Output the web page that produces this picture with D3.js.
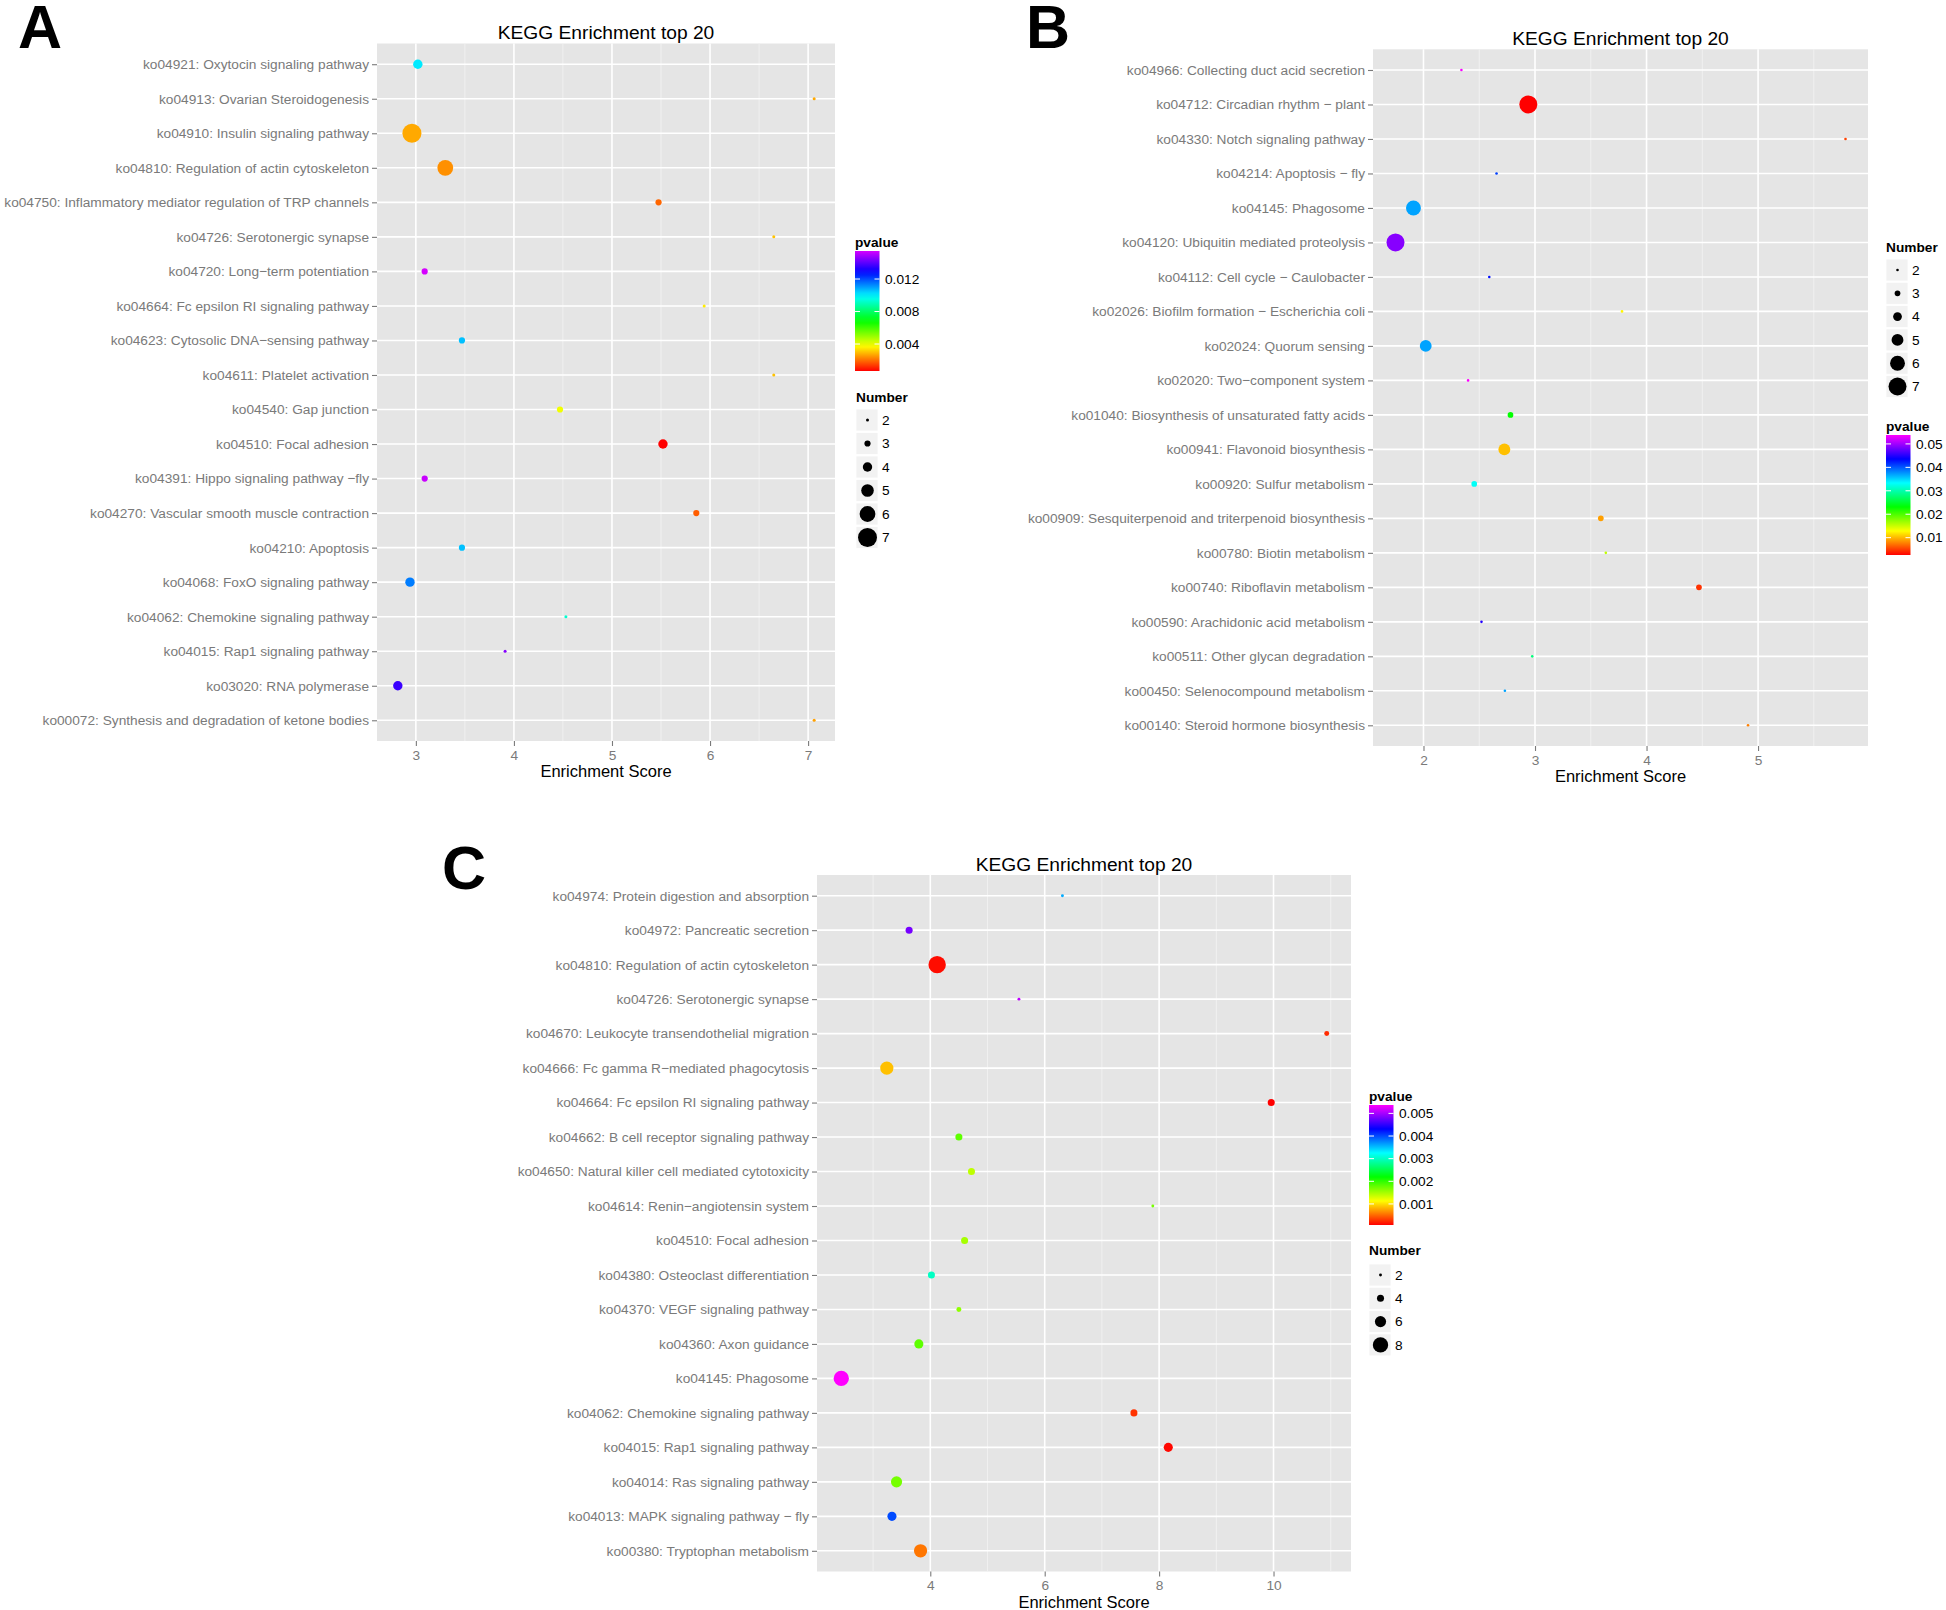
<!DOCTYPE html>
<html><head><meta charset="utf-8">
<script src="https://cdnjs.cloudflare.com/ajax/libs/d3/7.8.5/d3.min.js"></script>
<style>
body{margin:0;background:#fff;}
svg{display:block;}
text{font-family:"Liberation Sans",Arial,Helvetica,sans-serif;}
</style>
</head><body>
<svg id="chart" width="1946" height="1610"></svg>
<script>
// ---------------- Panel A data ----------------
const termsA = [
  "ko04921: Oxytocin signaling pathway",
  "ko04913: Ovarian Steroidogenesis",
  "ko04910: Insulin signaling pathway",
  "ko04810: Regulation of actin cytoskeleton",
  "ko04750: Inflammatory mediator regulation of TRP channels",
  "ko04726: Serotonergic synapse",
  "ko04720: Long\u2212term potentiation",
  "ko04664: Fc epsilon RI signaling pathway",
  "ko04623: Cytosolic DNA\u2212sensing pathway",
  "ko04611: Platelet activation",
  "ko04540: Gap junction",
  "ko04510: Focal adhesion",
  "ko04391: Hippo signaling pathway \u2212fly",
  "ko04270: Vascular smooth muscle contraction",
  "ko04210: Apoptosis",
  "ko04068: FoxO signaling pathway",
  "ko04062: Chemokine signaling pathway",
  "ko04015: Rap1 signaling pathway",
  "ko03020: RNA polymerase",
  "ko00072: Synthesis and degradation of ketone bodies"
];
const scoreA  = [3.02, 7.062, 2.96, 3.30, 5.475, 6.65, 3.09, 5.94, 3.47, 6.65, 4.47, 5.52, 3.09, 5.86, 3.47, 2.94, 4.53, 3.91, 2.816, 7.062];
const pvalueA = [0.0101, 0.0027, 0.0027, 0.0024, 0.0019, 0.0030, 0.01545, 0.0035, 0.0106, 0.0030, 0.0039, 0.00068, 0.0153, 0.0018, 0.0106, 0.0114, 0.0093, 0.0145, 0.0136, 0.0026];
const numberA = [4, 2, 7, 6, 3, 2, 3, 2, 3, 2, 3, 4, 3, 3, 3, 4, 2, 2, 4, 2];
const xTicksA = [3, 4, 5, 6, 7];
const pTicksA = [0.004, 0.008, 0.012];
const nTicksA = [2, 3, 4, 5, 6, 7];

// ---------------- Panel B data ----------------
const termsB = [
  "ko04966: Collecting duct acid secretion",
  "ko04712: Circadian rhythm \u2212 plant",
  "ko04330: Notch signaling pathway",
  "ko04214: Apoptosis \u2212 fly",
  "ko04145: Phagosome",
  "ko04120: Ubiquitin mediated proteolysis",
  "ko04112: Cell cycle \u2212 Caulobacter",
  "ko02026: Biofilm formation \u2212 Escherichia coli",
  "ko02024: Quorum sensing",
  "ko02020: Two\u2212component system",
  "ko01040: Biosynthesis of unsaturated fatty acids",
  "ko00941: Flavonoid biosynthesis",
  "ko00920: Sulfur metabolism",
  "ko00909: Sesquiterpenoid and triterpenoid biosynthesis",
  "ko00780: Biotin metabolism",
  "ko00740: Riboflavin metabolism",
  "ko00590: Arachidonic acid metabolism",
  "ko00511: Other glycan degradation",
  "ko00450: Selenocompound metabolism",
  "ko00140: Steroid hormone biosynthesis"
];
const scoreB  = [2.34, 2.94, 5.784, 2.655, 1.91, 1.749, 2.59, 3.78, 2.02, 2.40, 2.78, 2.725, 2.455, 3.59, 3.635, 4.47, 2.52, 2.975, 2.73, 4.91];
const pvalueB = [0.0535, 0.0026, 0.0052, 0.041, 0.037, 0.049, 0.043, 0.0125, 0.037, 0.0538, 0.023, 0.0103, 0.033, 0.009, 0.0154, 0.0046, 0.045, 0.028, 0.037, 0.0077];
const numberB = [2, 7, 2, 2, 6, 7, 2, 2, 5, 2, 3, 5, 3, 3, 2, 3, 2, 2, 2, 2];
const xTicksB = [2, 3, 4, 5];
const pTicksB = [0.01, 0.02, 0.03, 0.04, 0.05];
const nTicksB = [2, 3, 4, 5, 6, 7];

// ---------------- Panel C data ----------------
const termsC = [
  "ko04974: Protein digestion and absorption",
  "ko04972: Pancreatic secretion",
  "ko04810: Regulation of actin cytoskeleton",
  "ko04726: Serotonergic synapse",
  "ko04670: Leukocyte transendothelial migration",
  "ko04666: Fc gamma R\u2212mediated phagocytosis",
  "ko04664: Fc epsilon RI signaling pathway",
  "ko04662: B cell receptor signaling pathway",
  "ko04650: Natural killer cell mediated cytotoxicity",
  "ko04614: Renin\u2212angiotensin system",
  "ko04510: Focal adhesion",
  "ko04380: Osteoclast differentiation",
  "ko04370: VEGF signaling pathway",
  "ko04360: Axon guidance",
  "ko04145: Phagosome",
  "ko04062: Chemokine signaling pathway",
  "ko04015: Rap1 signaling pathway",
  "ko04014: Ras signaling pathway",
  "ko04013: MAPK signaling pathway \u2212 fly",
  "ko00380: Tryptophan metabolism"
];
const scoreC  = [6.31, 3.63, 4.12, 5.55, 10.93, 3.24, 9.96, 4.50, 4.72, 7.89, 4.60, 4.02, 4.50, 3.80, 2.444, 7.56, 8.16, 3.41, 3.33, 3.83];
const pvalueC = [0.0036, 0.0048, 0.00012, 0.0051, 0.00025, 0.00087, 0.00007, 0.0018, 0.0014, 0.0017, 0.0015, 0.0030, 0.0016, 0.0018, 0.00537, 0.00028, 0.0001, 0.0017, 0.0040, 0.00056];
const numberC = [2, 4, 9, 2, 3, 7, 4, 4, 4, 2, 4, 4, 3, 5, 8, 4, 5, 6, 5, 7];
const xTicksC = [4, 6, 8, 10];
const pTicksC = [0.001, 0.002, 0.003, 0.004, 0.005];
const nTicksC = [2, 4, 6, 8];

// ---------------- drawing ----------------
const svg = d3.select("#chart");
const defs = svg.append("defs");
const FONT = 13.7;
const AXIS_GREY = "#7a7a7a";

function drawPanel(d, L) {
  const g = svg.append("g");
  const ext = d3.extent(d.score);
  const pad = (ext[1] - ext[0]) * 0.05;
  const x = d3.scaleLinear().domain([ext[0] - pad, ext[1] + pad]).range([L.x0, L.x1]);
  const y = d3.scalePoint().domain(d.terms).range([L.y0, L.y1]).padding(0.6);
  const pExt = d3.extent(d.pvalue);
  const color = d3.scaleSequential(t => d3.hsl(t * L.hueMax, 1, 0.5).formatHex()).domain(pExt);
  const size = d3.scaleLinear().domain(d3.extent(d.number)).range(L.rRange);

  // panel label
  g.append("text").attr("x", L.lab[0]).attr("y", L.lab[1]).attr("font-size", 61)
    .attr("font-weight", "bold").attr("fill", "#000").text(L.letter);

  // title
  g.append("text").attr("x", (L.x0 + L.x1) / 2).attr("y", L.y0 - 4.5)
    .attr("text-anchor", "middle").attr("font-size", 19.2).attr("fill", "#000")
    .text("KEGG Enrichment top 20");

  // background
  g.append("rect").attr("x", L.x0).attr("y", L.y0).attr("width", L.x1 - L.x0)
    .attr("height", L.y1 - L.y0).attr("fill", "#e5e5e5");

  // minor grid
  const step = d.xTicks[1] - d.xTicks[0];
  const minor = [];
  for (let v = d.xTicks[0] - step / 2; v <= x.domain()[1]; v += step) {
    if (v >= x.domain()[0]) minor.push(v);
  }
  g.selectAll(".minor").data(minor).join("line")
    .attr("x1", v => x(v)).attr("x2", v => x(v)).attr("y1", L.y0).attr("y2", L.y1)
    .attr("stroke", "#f2f2f2").attr("stroke-width", 0.9);
  // major grid
  g.selectAll(".majx").data(d.xTicks).join("line")
    .attr("x1", v => x(v)).attr("x2", v => x(v)).attr("y1", L.y0).attr("y2", L.y1)
    .attr("stroke", "#fff").attr("stroke-width", 1.6);
  g.selectAll(".majy").data(d.terms).join("line")
    .attr("x1", L.x0).attr("x2", L.x1).attr("y1", t => y(t)).attr("y2", t => y(t))
    .attr("stroke", "#fff").attr("stroke-width", 1.6);

  // points
  const rows = d.terms.map((t, i) => ({t, s: d.score[i], p: d.pvalue[i], n: d.number[i]}));
  g.selectAll(".pt").data(rows).join("circle")
    .attr("cx", r => x(r.s)).attr("cy", r => y(r.t)).attr("r", r => size(r.n))
    .attr("fill", r => color(r.p));

  // axes
  const ay = g.append("g").attr("transform", `translate(${L.x0},0)`)
    .call(d3.axisLeft(y).tickSize(5).tickPadding(3));
  const ax = g.append("g").attr("transform", `translate(0,${L.y1})`)
    .call(d3.axisBottom(x).tickValues(d.xTicks).tickSize(5).tickPadding(4).tickFormat(d3.format("d")));
  [ay, ax].forEach(a => {
    a.select(".domain").remove();
    a.selectAll(".tick line").attr("stroke", AXIS_GREY).attr("stroke-width", 1.1);
    a.selectAll(".tick text").attr("fill", AXIS_GREY).attr("font-size", FONT)
      .attr("font-family", '"Liberation Sans",Arial,sans-serif');
  });
  g.append("text").attr("x", (L.x0 + L.x1) / 2).attr("y", L.y1 + 36)
    .attr("text-anchor", "middle").attr("font-size", 16.5).attr("fill", "#000")
    .text("Enrichment Score");

  // colour legend
  const C = L.cbar;
  const gid = "grad" + L.letter;
  const grad = defs.append("linearGradient").attr("id", gid)
    .attr("x1", 0).attr("y1", 1).attr("x2", 0).attr("y2", 0);
  d3.range(0, 1.0001, 0.05).forEach(t => {
    grad.append("stop").attr("offset", t).attr("stop-color", color(pExt[0] + t * (pExt[1] - pExt[0])));
  });
  g.append("text").attr("x", C.x).attr("y", C.y - 4.5).attr("font-size", FONT)
    .attr("font-weight", "bold").attr("fill", "#000").text("pvalue");
  g.append("rect").attr("x", C.x).attr("y", C.y).attr("width", 24.5).attr("height", 120)
    .attr("fill", `url(#${gid})`);
  const py = d3.scaleLinear().domain(pExt).range([C.y + 120, C.y]);
  d.pTicks.forEach(v => {
    g.append("line").attr("x1", C.x).attr("x2", C.x + 5).attr("y1", py(v)).attr("y2", py(v))
      .attr("stroke", "#fff").attr("stroke-width", 1);
    g.append("line").attr("x1", C.x + 19.5).attr("x2", C.x + 24.5).attr("y1", py(v)).attr("y2", py(v))
      .attr("stroke", "#fff").attr("stroke-width", 1);
    g.append("text").attr("x", C.x + 30).attr("y", py(v)).attr("dy", "0.35em")
      .attr("font-size", FONT).attr("fill", "#000").text(String(v));
  });

  // size legend
  const S = L.slegend;
  g.append("text").attr("x", S.x).attr("y", S.y).attr("font-size", FONT)
    .attr("font-weight", "bold").attr("fill", "#000").text("Number");
  d.nTicks.forEach((v, i) => {
    const cy = S.y + S.first + i * S.step;
    g.append("rect").attr("x", S.x).attr("y", cy - 11).attr("width", 22).attr("height", 22)
      .attr("fill", "#f2f2f2").attr("stroke", "#fff").attr("stroke-width", 0.8);
    g.append("circle").attr("cx", S.x + 11.5).attr("cy", cy).attr("r", size(v)).attr("fill", "#000");
    g.append("text").attr("x", S.x + 26).attr("y", cy).attr("dy", "0.35em")
      .attr("font-size", FONT).attr("fill", "#000").text(String(v));
  });
}

drawPanel(
  {terms: termsA, score: scoreA, pvalue: pvalueA, number: numberA, xTicks: xTicksA, pTicks: pTicksA, nTicks: nTicksA},
  {letter: "A", lab: [18, 48], x0: 377, x1: 835, y0: 43.5, y1: 741, hueMax: 290,
   rRange: [1.5, 9.5], cbar: {x: 855, y: 251}, slegend: {x: 856, y: 402, first: 18, step: 23.5}}
);
drawPanel(
  {terms: termsB, score: scoreB, pvalue: pvalueB, number: numberB, xTicks: xTicksB, pTicks: pTicksB, nTicks: nTicksB},
  {letter: "B", lab: [1026, 48], x0: 1373, x1: 1868, y0: 49.3, y1: 746, hueMax: 300,
   rRange: [1.3, 9.0], cbar: {x: 1886, y: 435}, slegend: {x: 1886, y: 252, first: 18, step: 23.3}}
);
drawPanel(
  {terms: termsC, score: scoreC, pvalue: pvalueC, number: numberC, xTicks: xTicksC, pTicks: pTicksC, nTicks: nTicksC},
  {letter: "C", lab: [442, 889], x0: 817, x1: 1351, y0: 875, y1: 1571.5, hueMax: 300,
   rRange: [1.45, 8.7], cbar: {x: 1369, y: 1105}, slegend: {x: 1369, y: 1255, first: 20, step: 23.3}}
);
</script>
</body></html>
